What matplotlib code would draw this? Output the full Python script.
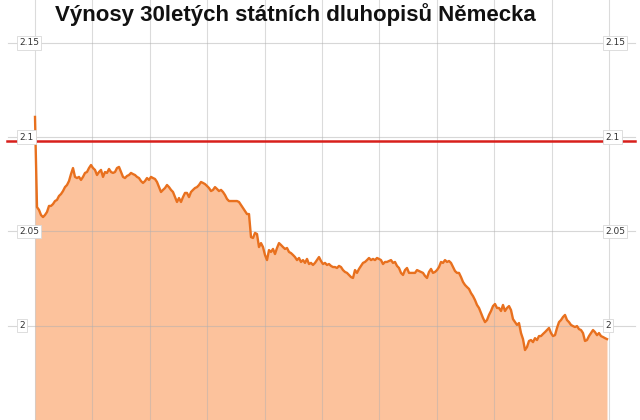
import numpy as np
import matplotlib
matplotlib.use("Agg")
import matplotlib.pyplot as plt

title = "Výnosy 30letých státních dluhopisů Německa"

yields = [
    2.1107, 2.0629, 2.0614, 2.0587, 2.0576, 2.0587, 2.0603, 2.0635, 2.0635, 2.0645,
    2.0661, 2.0667, 2.0688, 2.0698, 2.0714, 2.0735, 2.0746, 2.0767, 2.0804, 2.0836,
    2.0789, 2.0783, 2.0789, 2.0773, 2.0789, 2.0810, 2.0815, 2.0836, 2.0852, 2.0836,
    2.0826, 2.0799, 2.0815, 2.0826, 2.0789, 2.0815, 2.0810, 2.0831, 2.0815, 2.0810,
    2.0815, 2.0836, 2.0842, 2.0815, 2.0789, 2.0783, 2.0794, 2.0799, 2.0810, 2.0804,
    2.0799, 2.0789, 2.0783, 2.0767, 2.0757, 2.0767, 2.0783, 2.0773, 2.0789, 2.0783,
    2.0778, 2.0762, 2.0735, 2.0709, 2.0720, 2.0730, 2.0746, 2.0735, 2.0720, 2.0709,
    2.0682, 2.0656, 2.0677, 2.0656, 2.0682, 2.0704, 2.0704, 2.0682, 2.0709, 2.0720,
    2.0730, 2.0735, 2.0746, 2.0762, 2.0757, 2.0751, 2.0741, 2.0730, 2.0714, 2.0720,
    2.0735, 2.0725, 2.0714, 2.0720, 2.0709, 2.0693, 2.0672, 2.0661, 2.0661, 2.0661,
    2.0661, 2.0661, 2.0656, 2.0640, 2.0624, 2.0608, 2.0592, 2.0592, 2.0470, 2.0465,
    2.0492, 2.0486, 2.0417, 2.0438, 2.0417, 2.0375, 2.0348, 2.0401, 2.0391, 2.0407,
    2.0380, 2.0412, 2.0438, 2.0428, 2.0417, 2.0407, 2.0412, 2.0391, 2.0385, 2.0375,
    2.0364, 2.0348, 2.0359, 2.0338, 2.0348, 2.0333, 2.0354, 2.0327, 2.0333, 2.0322,
    2.0333, 2.0348, 2.0364, 2.0343, 2.0327, 2.0333, 2.0322, 2.0327, 2.0317, 2.0311,
    2.0311, 2.0306, 2.0317, 2.0311, 2.0295, 2.0285, 2.0280, 2.0269, 2.0258, 2.0253,
    2.0295, 2.0280, 2.0301, 2.0317, 2.0333, 2.0338, 2.0348, 2.0359, 2.0348, 2.0354,
    2.0348, 2.0359, 2.0354, 2.0348, 2.0327, 2.0338, 2.0338, 2.0343, 2.0348, 2.0333,
    2.0338, 2.0317, 2.0306, 2.0280, 2.0269, 2.0295, 2.0306, 2.0280, 2.0280, 2.0280,
    2.0280, 2.0295, 2.0290, 2.0285, 2.0280, 2.0264, 2.0253, 2.0285, 2.0301, 2.0280,
    2.0285, 2.0295, 2.0311, 2.0338, 2.0333, 2.0348, 2.0338, 2.0343, 2.0333, 2.0311,
    2.0290, 2.0280, 2.0280, 2.0258, 2.0232, 2.0216, 2.0205, 2.0195, 2.0173, 2.0157,
    2.0136, 2.0110, 2.0094, 2.0067, 2.0041, 2.0019, 2.0030, 2.0057, 2.0078, 2.0104,
    2.0115, 2.0094, 2.0094, 2.0078, 2.0110, 2.0078, 2.0094, 2.0104, 2.0083, 2.0035,
    2.0019, 2.0004, 2.0014, 1.9961, 1.9929, 1.9871, 1.9887, 1.9919, 1.9924, 1.9913,
    1.9934, 1.9924, 1.9945, 1.9945, 1.9956, 1.9966, 1.9977, 1.9988, 1.9961, 1.9945,
    1.9950, 1.9988, 2.0019, 2.0030, 2.0046, 2.0057, 2.0030, 2.0019, 2.0004, 1.9998,
    1.9993, 1.9998, 1.9982, 1.9977, 1.9961, 1.9919, 1.9924, 1.9945, 1.9961, 1.9977,
    1.9966, 1.9950, 1.9961, 1.9945, 1.9940, 1.9934, 1.9929,
]

ytick_values = [2.0, 2.05, 2.1, 2.15]
ytick_labels = ["2", "2.05", "2.1", "2.15"]
reference_level = 2.098

n = len(yields)
x = np.arange(n)

fig = plt.figure(figsize=(6.4, 4.2), dpi=100)
ax = fig.add_axes([0, 0, 1, 1])
W, H = 640, 420
ax.set_xlim(-35 / 2, (W - 35) / 2)
ax.set_ylim(1.95, 2.1727)
ax.axis("off")

fill_c = "#fcc29c"
line_c = "#e8701e"

ax.fill_between(x, yields, 1.9, color=fill_c, lw=0, zorder=1)

for gx in np.linspace(0, n - 1, 11) + np.linspace(0, 1, 11):
    ax.axvline(gx, color="#b0b0b0", lw=0.8, alpha=0.45, zorder=2)

for v in ytick_values:
    ax.axhline(v, xmin=8 / W, xmax=635 / W, color="#b0b0b0", lw=0.8, alpha=0.5, zorder=2)

ax.plot(x, yields, color=line_c, lw=1.7, zorder=3, solid_joinstyle="round")

ax.axhline(reference_level, xmin=7 / W, xmax=635 / W, color="#d8201c", lw=1.8, zorder=4)

box = dict(boxstyle="square,pad=0.25", fc="white", ec="#d8d8d8", lw=0.6)
for v, lab in zip(ytick_values, ytick_labels):
    for px in (19, 605):
        ax.text(px / W, v, lab, transform=ax.get_yaxis_transform(), ha="left",
                va="center", fontsize=6.5, color="#333333", family="DejaVu Sans",
                bbox=box, zorder=5)

fig.text(295 / W, 1 - 21 / H, title, ha="center", va="baseline",
         fontsize=16, fontweight="bold", family="Liberation Sans", color="#111111")

fig.savefig("out.png", dpi=100, facecolor="white")
